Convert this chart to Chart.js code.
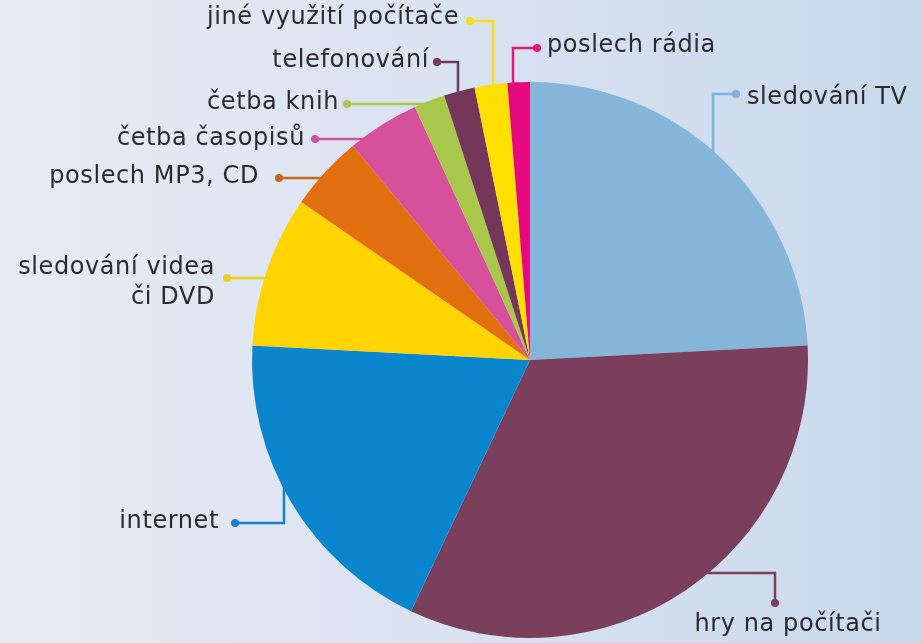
<!DOCTYPE html>
<html>
<head>
<meta charset="utf-8">
<script src="https://cdn.jsdelivr.net/npm/chart.js@4"></script>
<style>
  html, body { margin: 0; padding: 0; }
  body {
    width: 922px;
    height: 643px;
    overflow: hidden;
    background: linear-gradient(90deg, #e7eaf4 0%, #dbe3f0 45%, #c8d8ec 100%);
  }
  #wrap { position: relative; width: 922px; height: 643px; }
</style>
</head>
<body>
<div id="wrap"><canvas id="pieChart" width="922" height="643"></canvas></div>
<script>
// ==========================
// Data
// ==========================

const categories = [
  "sledování TV",
  "hry na počítači",
  "internet",
  "sledování videa či DVD",
  "poslech MP3, CD",
  "četba časopisů",
  "četba knih",
  "telefonování",
  "jiné využití počítače",
  "poslech rádia"
];

const shares = [24.2, 32.9, 18.8, 8.8, 4.4, 4.2, 1.8, 1.8, 1.9, 1.3];

const sliceColors = [
  "#86b5da", "#7b3f5e", "#0a86cf", "#ffd400", "#e2700f",
  "#d6509b", "#a9c74b", "#74375a", "#ffdf00", "#e5087f"
];

const lineColors = [
  "#7fb1d9", "#7b3f5e", "#1a80c4", "#e8d21a", "#c8651c",
  "#d6509b", "#a9c74b", "#6e3b58", "#f6dd18", "#e0187f"
];

// label lines (text lines per category)
const labelLines = [
  ["sledování TV"],
  ["hry na počítači"],
  ["internet"],
  ["sledování videa", "či DVD"],
  ["poslech MP3, CD"],
  ["četba časopisů"],
  ["četba knih"],
  ["telefonování"],
  ["jiné využití počítače"],
  ["poslech rádia"]
];

// ==========================
// Leader layout (dot, elbow, direction to pie, text anchor)
// ==========================

const leaders = [
  { dot: [736, 94], elbow: [713, 94], dir: "v", tx: 747, ty: 98, align: "left" },
  { dot: [775, 603], elbow: [775, 573], dir: "h", tx: 788, ty: 625, align: "center" },
  { dot: [235, 523], elbow: [284, 523], dir: "v", tx: 219, ty: 522, align: "right" },
  { dot: [227, 278], elbow: [227, 278], dir: "h", tx: 215, ty: 268, align: "right" },
  { dot: [279, 178], elbow: [279, 178], dir: "h", tx: 259, ty: 177, align: "right" },
  { dot: [315, 139], elbow: [315, 139], dir: "h", tx: 305, ty: 139, align: "right" },
  { dot: [347, 104], elbow: [347, 104], dir: "h", tx: 339, ty: 103, align: "right" },
  { dot: [437, 62], elbow: [458, 62], dir: "v", tx: 429, ty: 61, align: "right" },
  { dot: [470, 21], elbow: [493, 21], dir: "v", tx: 459, ty: 18, align: "right" },
  { dot: [537, 48], elbow: [513, 48], dir: "v", tx: 547, ty: 46, align: "left" }
];

// ==========================
// Leader plugin
// ==========================

const leaderPlugin = {
  id: "leaders",
  afterDatasetsDraw(chart) {
    const ctx = chart.ctx;
    const arcs = chart.getDatasetMeta(0).data;
    const cx = arcs[0].x;
    const cy = arcs[0].y;
    const r = arcs[0].outerRadius;

    ctx.save();
    leaders.forEach((ld, i) => {
      const [dx, dy] = ld.dot;
      const [ex, ey] = ld.elbow;
      let end;
      if (ld.dir === "h") {
        const off = Math.sqrt(Math.max(r * r - (ey - cy) ** 2, 0));
        end = [ex < cx ? cx - off + 3 : cx + off - 3, ey];
      } else {
        const off = Math.sqrt(Math.max(r * r - (ex - cx) ** 2, 0));
        end = [ex, ey < cy ? cy - off + 3 : cy + off - 3];
      }

      ctx.strokeStyle = lineColors[i];
      ctx.lineWidth = 2.5;
      ctx.beginPath();
      ctx.moveTo(dx, dy);
      ctx.lineTo(ex, ey);
      ctx.lineTo(end[0], end[1]);
      ctx.stroke();

      ctx.fillStyle = lineColors[i];
      ctx.beginPath();
      ctx.arc(dx, dy, 4, 0, Math.PI * 2);
      ctx.fill();

      ctx.fillStyle = "#2a2a2e";
      ctx.font = '24px "DejaVu Sans", sans-serif';
      ctx.letterSpacing = "0.6px";
      ctx.textAlign = ld.align;
      ctx.textBaseline = "middle";
      labelLines[i].forEach((t, k) => {
        ctx.fillText(t, ld.tx, ld.ty + k * 30);
      });
    });
    ctx.restore();
  }
};

// ==========================
// Chart
// ==========================

new Chart(document.getElementById("pieChart"), {
  type: "pie",
  data: {
    labels: categories,
    datasets: [
      {
        data: shares,
        backgroundColor: sliceColors,
        borderWidth: 0
      }
    ]
  },
  options: {
    responsive: false,
    animation: false,
    layout: {
      padding: { left: 252, right: 114, top: 82, bottom: 5 }
    },
    plugins: {
      legend: { display: false },
      tooltip: { enabled: false }
    }
  },
  plugins: [leaderPlugin]
});
</script>
</body>
</html>
